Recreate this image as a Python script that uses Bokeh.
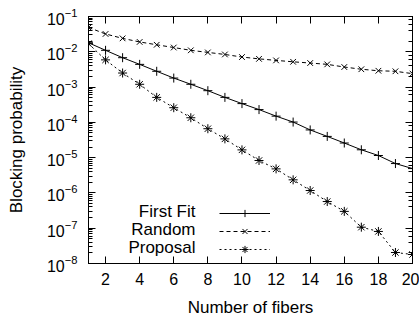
from bokeh.plotting import figure
from bokeh.models import (LogAxis, LinearAxis, Range1d, FixedTicker, Legend, LegendItem, Label)
from bokeh.embed import file_html
from bokeh.resources import INLINE

fibers = list(range(1, 21))
first_fit = [0.018, 0.011, 0.0068, 0.0044, 0.0028, 0.0018, 0.0012, 7.9e-4, 5.1e-4, 3.4e-4,
             2.3e-4, 1.5e-4, 1.02e-4, 6.1e-5, 4.0e-5, 2.6e-5, 1.67e-5, 1.15e-5, 6.8e-6, 4.9e-6]
random_fit = [0.049, 0.032, 0.024, 0.019, 0.0158, 0.0132, 0.011, 0.0096, 0.0084, 0.0071,
              0.0063, 0.0057, 0.0052, 0.0048, 0.0044, 0.0037, 0.0032, 0.0029, 0.0028, 0.0024]
proposal = [0.017, 0.0059, 0.0025, 0.0012, 5.1e-4, 2.6e-4, 1.35e-4, 6.6e-5, 3.4e-5, 1.66e-5,
            8.3e-6, 4.8e-6, 2.35e-6, 1.17e-6, 5.7e-7, 3.0e-7, 1.07e-7, 8.1e-8, 2.05e-8, 1.8e-8]
x_ticks = [2, 4, 6, 8, 10, 12, 14, 16, 18, 20]
series_names = ["First Fit", "Random", "Proposal"]
x_title = "Number of fibers"
y_title = "Blocking probability"

FONT = "Liberation Sans"
TICK_FS = "16px"
LABEL_FS = "17px"

p = figure(width=419, height=320, output_backend="svg", toolbar_location=None,
           y_axis_type="log", x_range=Range1d(1, 20), y_range=Range1d(1e-8, 1e-1),
           min_border_left=88, min_border_right=7, min_border_top=16, min_border_bottom=57)
p.grid.visible = False
p.outline_line_color = "black"
p.outline_line_width = 1
p.background_fill_color = "white"

def style_axis(ax, minor=True):
    ax.major_tick_in = 7
    ax.major_tick_out = 0
    ax.minor_tick_in = 4 if minor else 0
    ax.minor_tick_out = 0
    ax.axis_line_color = "black"
    ax.major_tick_line_color = "black"
    ax.minor_tick_line_color = "black" if minor else None
    ax.major_label_text_font = FONT
    ax.major_label_text_font_size = TICK_FS
    ax.major_label_text_color = "black"
    ax.axis_label_text_font = FONT
    ax.axis_label_text_font_size = LABEL_FS
    ax.axis_label_text_font_style = "normal"
    ax.axis_label_text_color = "black"

xax = p.xaxis[0]
xax.ticker = FixedTicker(ticks=x_ticks)
xax.axis_label = x_title
xax.major_label_standoff = 9
xax.axis_label_standoff = 10
style_axis(xax, minor=False)

yax = p.yaxis[0]
yax.axis_label = y_title
yax.major_label_standoff = 11
yax.axis_label_standoff = 18
style_axis(yax)

top = LinearAxis(ticker=FixedTicker(ticks=x_ticks))
style_axis(top, minor=False)
top.major_label_text_font_size = "0px"
top.major_label_text_color = None
top.major_label_standoff = 0
p.add_layout(top, "above")
right = LogAxis()
style_axis(right)
right.major_label_text_font_size = "0px"
right.major_label_text_color = None
right.major_label_standoff = 0
p.add_layout(right, "right")

r1l = p.line(fibers, first_fit, line_color="black", line_width=1)
r1m = p.scatter(fibers, first_fit, marker="cross", size=9, line_color="black", line_width=1)
r2l = p.line(fibers, random_fit, line_color="black", line_width=1, line_dash="4 3")
r2m = p.scatter(fibers, random_fit, marker="x", size=8, line_color="black", line_width=1)
r3l = p.line(fibers, proposal, line_color="black", line_width=1, line_dash="2 3")
r3m = p.scatter(fibers, proposal, marker="asterisk", size=9, line_color="black", line_width=1)

items = [LegendItem(label=" ", renderers=[r1l, r1m]),
         LegendItem(label=" ", renderers=[r2l, r2m]),
         LegendItem(label=" ", renderers=[r3l, r3m])]
leg = Legend(items=items, location=(131, 5), glyph_width=51, glyph_height=18,
             label_height=18, label_width=1, spacing=0, padding=0, margin=0,
             label_standoff=0, background_fill_alpha=0, border_line_color=None,
             label_text_font_size="1px")
p.add_layout(leg, "center")

for i, name in enumerate(series_names):
    p.add_layout(Label(x=107, y=52 - 18 * i, x_units="screen", y_units="screen", text=name,
                       text_align="right", text_baseline="middle", text_font=FONT,
                       text_font_size=LABEL_FS, text_color="black"))

open("out.html", "w").write(file_html(p, INLINE))
